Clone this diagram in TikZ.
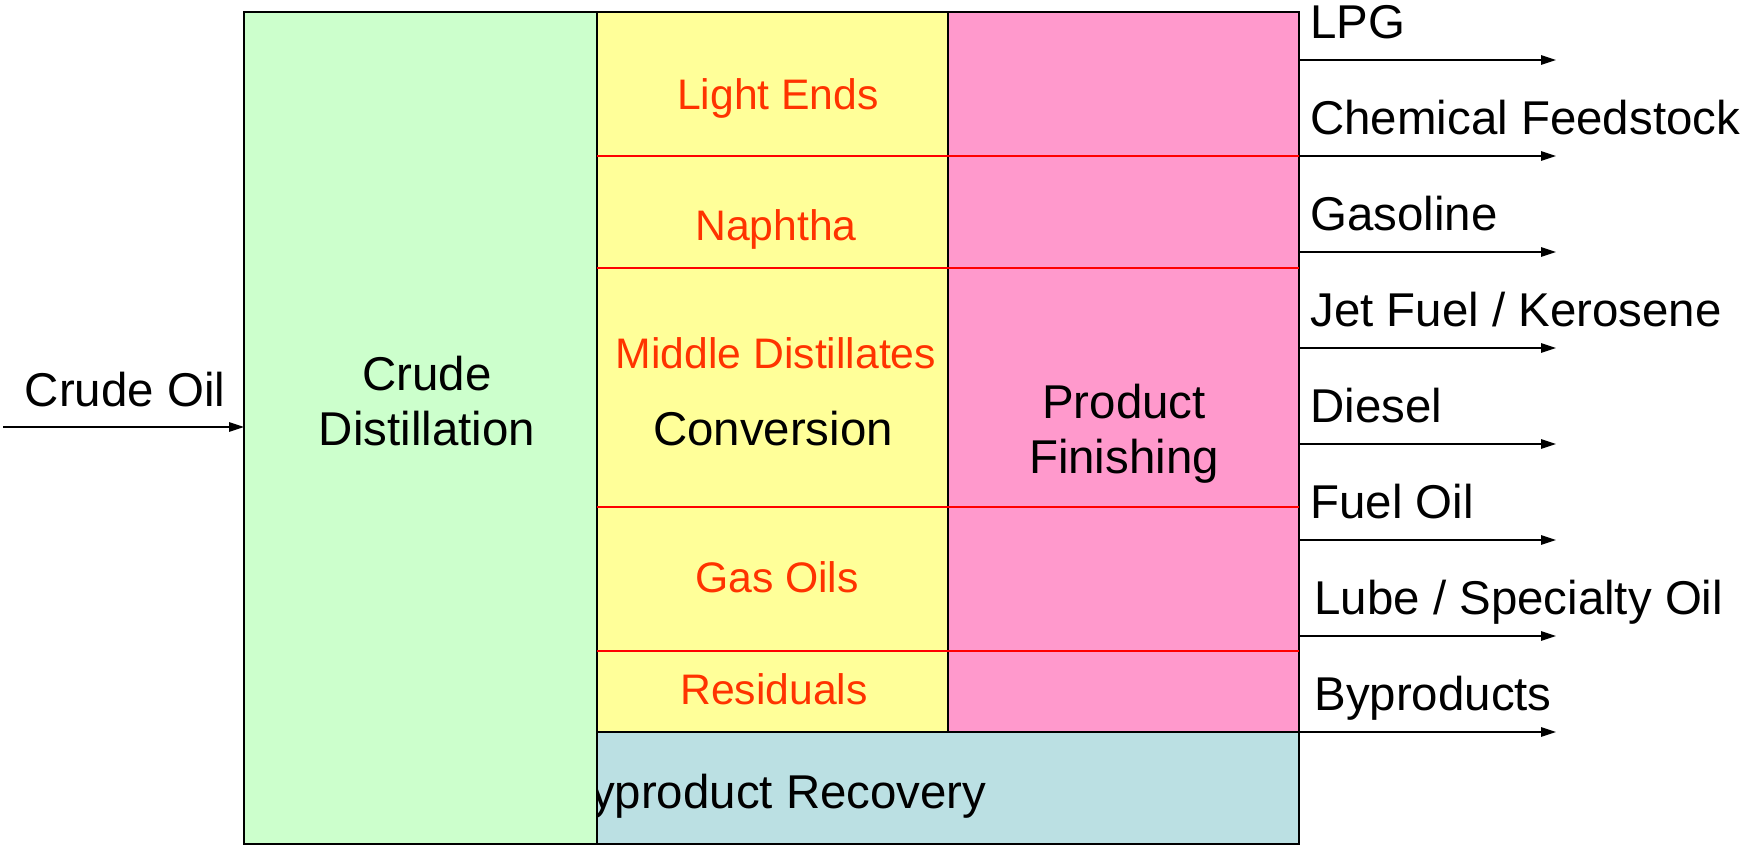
\documentclass[tikz,border=0pt]{standalone}
\usepackage{fontspec}
\setmainfont{Liberation Sans}
\usetikzlibrary{arrows.meta}
\definecolor{cdugreen}{HTML}{CCFFCC}
\definecolor{convyellow}{HTML}{FFFF99}
\definecolor{finpink}{HTML}{FF99CC}
\definecolor{recblue}{HTML}{BBE0E3}
\definecolor{cutred}{HTML}{FF3300}

\begin{document}
\begin{tikzpicture}[x=0.02cm,y=-0.02cm,
  box/.style={draw=black,line width=1.1pt,inner sep=0pt,outer sep=0pt,anchor=north west},
  big/.style={font=\fontsize{27}{31.2}\selectfont,align=center},
  cut/.style={font=\fontsize{24.3}{28}\selectfont,text=cutred,anchor=base},
  flow/.style={line width=0.75pt,-{Triangle[length=0.3cm,width=0.19cm]}},
  sep/.style={draw=red,line width=0.8pt}]
  \useasboundingbox (0,0) rectangle (1749,847);

  % recovery box goes first, crude unit covers the B
  \node[box,fill=recblue,minimum width=14.04cm,minimum height=2.24cm] (recov) at (597,732) {};
  \node[big,anchor=base] (rectxt) at (773,808) {Byproduct Recovery};

  \node[box,fill=cdugreen,minimum width=7.06cm,minimum height=16.64cm] (cdu) at (244,12) {};
  \node[box,fill=convyellow,minimum width=7.02cm,minimum height=14.4cm] (conv) at (597,12) {};
  \node[box,fill=finpink,minimum width=7.02cm,minimum height=14.4cm] (finish) at (948,12) {};

  % cut points
  \foreach \y in {156,268,507,651}
    \draw[sep] (597,\y) -- (1299,\y);

  \node[big] (cdutxt) at (427,401) {Crude\\Distillation};
  \node[big,anchor=base] (convtxt) at (773,446) {Conversion};
  \node[big] (fintxt) at (1124,434) {Product\\Finishing};

  \node[cut] (light) at (778,110) {Light Ends};
  \node[cut] (naph) at (776,241) {Naphtha};
  \node[cut] (mid) at (776,369) {Middle Distillates};
  \node[cut] (gasoil) at (777,593) {Gas Oils};
  \node[cut] (resid) at (774,705) {Residuals};

  % feed
  \coordinate (feed) at (3,427);
  \draw[flow] (feed) -- (feed -| cdu.west);
  \node[big,anchor=base] (feedtxt) at (125,407) {Crude Oil};

  % products
  \foreach \y/\name/\dx [count=\i] in {60/LPG/0,156/Chemical Feedstock/0,252/Gasoline/0,
      348/{Jet Fuel / Kerosene}/0,444/Diesel/0,540/Fuel Oil/0,636/{Lube / Specialty Oil}/4,732/Byproducts/4}{
    \coordinate (src\i) at (1299,\y);
    \coordinate (dst\i) at (1556,\y);
    \draw[flow] (src\i) -- (dst\i);
    \node[big,anchor=base west,inner sep=0pt] (out\i) at (1310+\dx,\y-21) {\name};
  }
\end{tikzpicture}
\end{document}
